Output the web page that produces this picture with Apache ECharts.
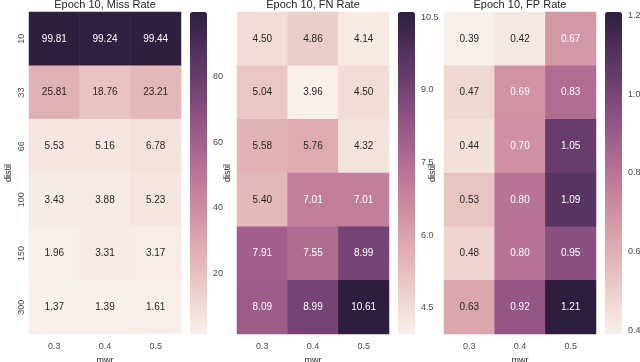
<!DOCTYPE html>
<html>
<head>
<meta charset="utf-8">
<script src="https://cdn.jsdelivr.net/npm/echarts@6/dist/echarts.min.js"></script>
<style>
  html, body { margin: 0; padding: 0; background: #fff; }
  #chart { width: 640px; height: 362px; }
</style>
</head>
<body>
<div id="chart"></div>
<script>
// 行、列
const distil = ['10', '33', '66', '100', '150', '300']
const mwr = ['0.3', '0.4', '0.5']

// 三张热力图的数值 (行 = distil, 列 = mwr)
const missRate = [
  [99.81, 99.24, 99.44],
  [25.81, 18.76, 23.21],
  [5.53, 5.16, 6.78],
  [3.43, 3.88, 5.23],
  [1.96, 3.31, 3.17],
  [1.37, 1.39, 1.61]
]
const fnRate = [
  [4.50, 4.86, 4.14],
  [5.04, 3.96, 4.50],
  [5.58, 5.76, 4.32],
  [5.40, 7.01, 7.01],
  [7.91, 7.55, 8.99],
  [8.09, 8.99, 10.61]
]
const fpRate = [
  [0.39, 0.42, 0.67],
  [0.47, 0.69, 0.83],
  [0.44, 0.70, 1.05],
  [0.53, 0.80, 1.09],
  [0.48, 0.80, 0.95],
  [0.63, 0.92, 1.21]
]

// 色条刻度
const missTicks = [20, 40, 60, 80]
const fnTicks = [4.5, 6.0, 7.5, 9.0, 10.5]
const fpTicks = [0.4, 0.6, 0.8, 1.0, 1.2]

const titles = ['Epoch 10, Miss Rate', 'Epoch 10, FN Rate', 'Epoch 10, FP Rate']

// seaborn cubehelix_palette(light=.95, as_cmap=True)
const cubehelix = (x) => {
  const gamma = 1, start = 0, rot = 0.4, hue = 0.8
  const xg = Math.pow(x, gamma)
  const a = hue * xg * (1 - xg) / 2
  const phi = 2 * Math.PI * (start / 3 + rot * x)
  const c = (p0, p1) => Math.min(1, Math.max(0, xg + a * (p0 * Math.cos(phi) + p1 * Math.sin(phi))))
  return [c(-0.14861, 1.78277), c(-0.29227, -0.90649), c(1.97294, 0)]
}
const cmap = (t) => cubehelix(0.95 - 0.8 * t)
const toHex = (rgb) => '#' + rgb.map(v => Math.round(v * 255).toString(16).padStart(2, '0')).join('')
const rampColors = Array.from({ length: 21 }, (_, i) => toHex(cmap(i / 20)))

const luminance = (rgb) => {
  const l = rgb.map(v => v <= 0.03928 ? v / 12.92 : Math.pow((v + 0.055) / 1.055, 2.4))
  return l[0] * 0.2126 + l[1] * 0.7152 + l[2] * 0.0722
}

const panels = [
  { values: missRate, ticks: missTicks, fmt: v => String(v) },
  { values: fnRate, ticks: fnTicks, fmt: v => v.toFixed(1) },
  { values: fpRate, ticks: fpTicks, fmt: v => v.toFixed(1) }
]

const heatLeft = [29, 237, 444]
const barLeft = [190, 398, 605]
const nameGaps = [16, 5, 7]
const gridTop = 12, gridHeight = 322

const textColor = '#262626'
const tickColor = '#4a4a4a'
const font = 'Liberation Sans, Arial, sans-serif'

const grid = [], xAxis = [], yAxis = [], series = [], visualMap = [], title = []

panels.forEach((p, i) => {
  const flat = p.values.flat()
  const min = Math.min(...flat)
  const max = Math.max(...flat)

  // 热力图
  grid.push({ left: heatLeft[i], top: gridTop, width: 152, height: gridHeight, outerBoundsMode: 'none' })
  // 色条坐标
  grid.push({ left: barLeft[i], top: gridTop, width: 17, height: gridHeight, outerBoundsMode: 'none' })

  xAxis.push({
    type: 'category', gridIndex: 2 * i, data: mwr,
    name: 'mwr', nameLocation: 'middle', nameGap: 20,
    nameTextStyle: { color: textColor, fontSize: 9, fontFamily: font },
    axisLine: { show: false }, axisTick: { show: false },
    axisLabel: { color: tickColor, fontSize: 9, margin: 8, fontFamily: font },
    splitArea: { show: false }
  })
  xAxis.push({ type: 'value', gridIndex: 2 * i + 1, show: false, min: 0, max: 1 })

  yAxis.push({
    type: 'category', gridIndex: 2 * i, data: distil, inverse: true,
    name: 'distil', nameLocation: 'middle', nameGap: nameGaps[i],
    nameTextStyle: { color: textColor, fontSize: 9, fontFamily: font },
    axisLine: { show: false }, axisTick: { show: false },
    axisLabel: { show: i === 0, rotate: 90, color: tickColor, fontSize: 9, margin: 3, fontFamily: font },
    splitArea: { show: false }
  })
  yAxis.push({
    type: 'value', gridIndex: 2 * i + 1, position: 'right', min, max,
    axisLine: { show: false }, axisTick: { show: false }, splitLine: { show: false },
    axisLabel: {
      color: tickColor, fontSize: 9, margin: 6, fontFamily: font,
      customValues: p.ticks, formatter: p.fmt
    }
  })

  const data = []
  p.values.forEach((row, r) => {
    row.forEach((v, c) => {
      const lum = luminance(cmap((v - min) / (max - min)))
      data.push({
        value: [c, r, v],
        label: { color: lum > 0.408 ? textColor : '#ffffff' }
      })
    })
  })

  series.push({
    type: 'heatmap', xAxisIndex: 2 * i, yAxisIndex: 2 * i, data,
    label: {
      show: true, fontSize: 10, fontFamily: font,
      formatter: (d) => d.value[2].toFixed(2)
    },
    itemStyle: { borderWidth: 0 },
    emphasis: { disabled: true }
  })

  visualMap.push({
    type: 'continuous', seriesIndex: i, min, max,
    left: barLeft[i], top: gridTop, itemWidth: 17, itemHeight: gridHeight,
    padding: 0, calculable: false, hoverLink: false,
    text: null, showLabel: false,
    inRange: { color: rampColors }
  })

  title.push({
    text: titles[i], left: heatLeft[i] + 76, top: -1, textAlign: 'center', padding: 0,
    textStyle: { color: textColor, fontSize: 11, fontWeight: 'normal', fontFamily: font }
  })
})

const chart = echarts.init(document.getElementById('chart'))
chart.setOption({
  backgroundColor: '#ffffff',
  animation: false,
  title, grid, xAxis, yAxis, series, visualMap
})
</script>
</body>
</html>
